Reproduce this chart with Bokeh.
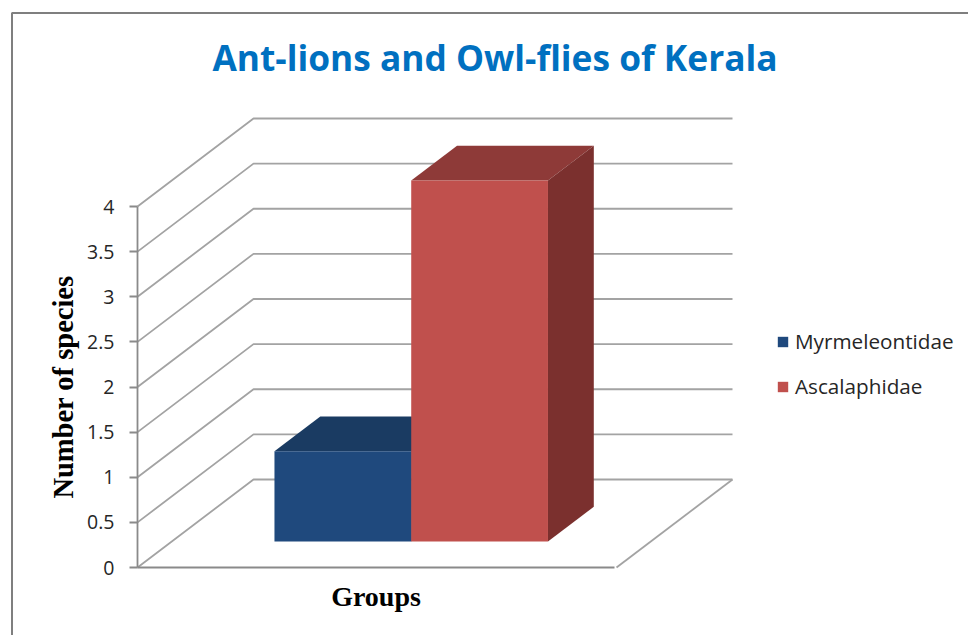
from bokeh.plotting import figure
from bokeh.models import LinearAxis, FixedTicker, Legend, LegendItem, Label, ColumnDataSource
from bokeh.embed import file_html
from bokeh.resources import INLINE

TITLE = "Ant-lions and Owl-flies of Kerala"
X_LABEL = "Groups"
Y_LABEL = "Number of species"
series_names = ["Myrmeleontidae", "Ascalaphidae"]
series_values = [1, 4]
tick_values = [0, 0.5, 1, 1.5, 2, 2.5, 3, 3.5, 4]
tick_labels = ["0", "0.5", "1", "1.5", "2", "2.5", "3", "3.5", "4"]

front_colors = ["#1F497D", "#C0504D"]
top_colors = ["#1A3B62", "#8E3A38"]
side_colors = ["#173456", "#7B302E"]

# pixel geometry of the plot frame
PX_X0, PX_U = 137.0, 479.0      # value-axis position, floor width
PX_Y0, PX_V = 567.0, 90.25      # zero line, pixels per unit
DEPTH_X = 116.0 / PX_U          # oblique shift of the whole depth, in x units
DEPTH_Y = 88.0 / PX_V           # oblique shift of the whole depth, in y units
BAR_W = 0.2855
D0, D1 = 0.295, 0.69            # bar's extent in depth

def ux(px): return (px - PX_X0) / PX_U
def vy(py): return (PX_Y0 - py) / PX_V

p = figure(width=968, height=635, output_backend="svg", toolbar_location=None,
           x_range=(ux(0), ux(968)), y_range=(vy(635), vy(0)),
           x_axis_type=None, y_axis_type=None, min_border=0,
           outline_line_color=None, background_fill_color="white", border_fill_color="white")
p.grid.visible = False

# chart-area border
p.line([ux(11.5), ux(11.5), ux(968)], [vy(635), vy(12.5), vy(12.5)], line_color="#7F7F7F", line_width=2)

# gridlines: front edge -> back wall
GRID = "#A3A3A3"
p.multi_line([[0, DEPTH_X, 1 + DEPTH_X] for _ in tick_values],
             [[v, v + DEPTH_Y, v + DEPTH_Y] for v in tick_values],
             line_color=GRID, line_width=1.8)
# floor's right edge
p.line([1, 1 + DEPTH_X], [0, DEPTH_Y], line_color=GRID, line_width=1.8)

# bars
lefts = [0.5 - BAR_W, 0.5]
front_renderers = []
for i in range(2):
    l, r, top = lefts[i], lefts[i] + BAR_W, series_values[i]
    ox0, oy0 = D0 * DEPTH_X, D0 * DEPTH_Y
    ox1, oy1 = D1 * DEPTH_X, D1 * DEPTH_Y
    p.patch([l + ox0, r + ox0, r + ox1, l + ox1],
            [top + oy0, top + oy0, top + oy1, top + oy1], fill_color=top_colors[i], line_color=None)
    p.patch([r + ox0, r + ox1, r + ox1, r + ox0],
            [oy0, oy1, top + oy1, top + oy0], fill_color=side_colors[i], line_color=None)
    src = ColumnDataSource(dict(left=[l + ox0], right=[r + ox0], bottom=[oy0], top=[top + oy0]))
    front_renderers.append(p.quad(left="left", right="right", bottom="bottom", top="top", source=src,
                                  fill_color=front_colors[i], line_color=None))

# axes sit on the floor's front edges
AXIS = "#8A8A8A"
yax = LinearAxis(fixed_location=0, bounds=(0, 4), ticker=FixedTicker(ticks=tick_values),
                 major_label_overrides={v: t for v, t in zip(tick_values, tick_labels)},
                 axis_line_color=AXIS, axis_line_width=1.8,
                 major_tick_line_color=AXIS, major_tick_line_width=1.8,
                 major_tick_out=8, major_tick_in=0, minor_tick_line_color=None,
                 major_label_text_font="Open Sans", major_label_text_font_size="19.5px",
                 major_label_text_color="#262626", major_label_standoff=15,
                 axis_label=Y_LABEL, axis_label_text_font="Liberation Serif",
                 axis_label_text_font_style="bold", axis_label_text_font_size="28.5px",
                 axis_label_text_color="black", axis_label_standoff=5)
p.add_layout(yax, "left")

xax = LinearAxis(fixed_location=0, bounds=(0, 0.995), ticker=FixedTicker(ticks=[]),
                 axis_line_color=AXIS, axis_line_width=1.8,
                 major_tick_line_color=None, minor_tick_line_color=None,
                 axis_label=X_LABEL, axis_label_text_font="Liberation Serif",
                 axis_label_text_font_style="bold", axis_label_text_font_size="28px",
                 axis_label_text_color="black", axis_label_standoff=13)
p.add_layout(xax, "below")

# title
p.add_layout(Label(x=ux(494.5), y=vy(56.5), text=TITLE, text_align="center", text_baseline="middle",
                   text_font="Open Sans", text_font_style="bold", text_font_size="35.3px", text_color="#0070C0"))

# legend
legend = Legend(items=[LegendItem(label=n, renderers=[r]) for n, r in zip(series_names, front_renderers)],
                location=(776, 235), orientation="vertical", background_fill_alpha=0,
                border_line_color=None, padding=0, margin=0, spacing=17,
                glyph_width=13, glyph_height=13, label_standoff=6,
                label_text_font="Open Sans", label_text_font_size="20.7px", label_text_color="#262626")
p.add_layout(legend, "center")

open("out.html", "w").write(file_html(p, INLINE))
